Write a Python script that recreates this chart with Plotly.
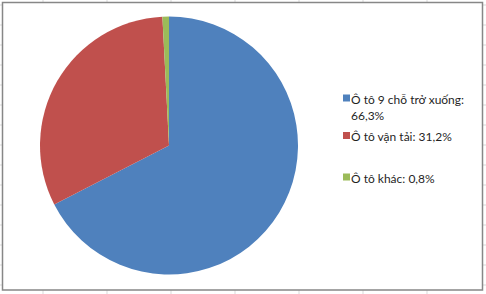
import plotly.graph_objects as go

# ---- data ----
labels = ["Ô tô 9 chỗ trở xuống", "Ô tô vận tải", "Ô tô khác"]
values = [66.3, 31.2, 0.8]
value_labels = ["66,3%", "31,2%", "0,8%"]
colors = ["#4F81BD", "#C0504D", "#9BBB59"]

# ---- layout helpers (pixel -> paper) ----
W, H = 486, 294
def px(x):
    return x / W
def py(y):
    return 1 - y / H

fig = go.Figure(
    go.Pie(
        labels=labels,
        values=values,
        sort=False,
        direction="clockwise",
        rotation=0,
        marker=dict(colors=colors, line=dict(width=0)),
        textinfo="none",
        hoverinfo="label+percent",
        showlegend=False,
        domain=dict(x=[px(40), px(298)], y=[py(274.5), py(16.5)]),
    )
)

shapes = []
# spreadsheet gridlines visible around the chart
grid_col = "#D9D9D9"
for gx in range(43, W, 64):
    shapes.append(dict(type="line", xref="paper", yref="paper", x0=px(gx), x1=px(gx),
                       y0=0, y1=1, line=dict(color=grid_col, width=1), layer="below"))
for gy in range(5, H, 20):
    shapes.append(dict(type="line", xref="paper", yref="paper", x0=0, x1=1,
                       y0=py(gy), y1=py(gy), line=dict(color=grid_col, width=1), layer="below"))
# chart area with border
shapes.append(dict(type="rect", xref="paper", yref="paper", x0=px(2.5), x1=px(482.5),
                   y0=py(290), y1=py(2.5), fillcolor="white",
                   line=dict(color="#878787", width=1.5), layer="below"))

# custom legend (marker squares + text)
marker_y = [98, 135.5, 177]
annotations = []
for i, (lab, val, col) in enumerate(zip(labels, value_labels, colors)):
    my = marker_y[i]
    shapes.append(dict(type="rect", xref="paper", yref="paper",
                       x0=px(343), x1=px(350), y0=py(my + 3.5), y1=py(my - 3.5),
                       fillcolor=col, line=dict(width=0), layer="above"))
    if i == 0:
        txt = f"{lab}:<br>{val}"
    else:
        txt = f"{lab}: {val}"
    annotations.append(dict(xref="paper", yref="paper", x=px(349), y=py(my - 8.5),
                            xanchor="left", yanchor="top", align="left", showarrow=False,
                            text=txt, font=dict(family="Lato", size=12, color="#1F1F1F")))

fig.update_layout(
    width=W, height=H,
    margin=dict(l=0, r=0, t=0, b=0),
    paper_bgcolor="white",
    plot_bgcolor="white",
    shapes=shapes,
    annotations=annotations,
    showlegend=False,
)

fig.write_html("out.html")
